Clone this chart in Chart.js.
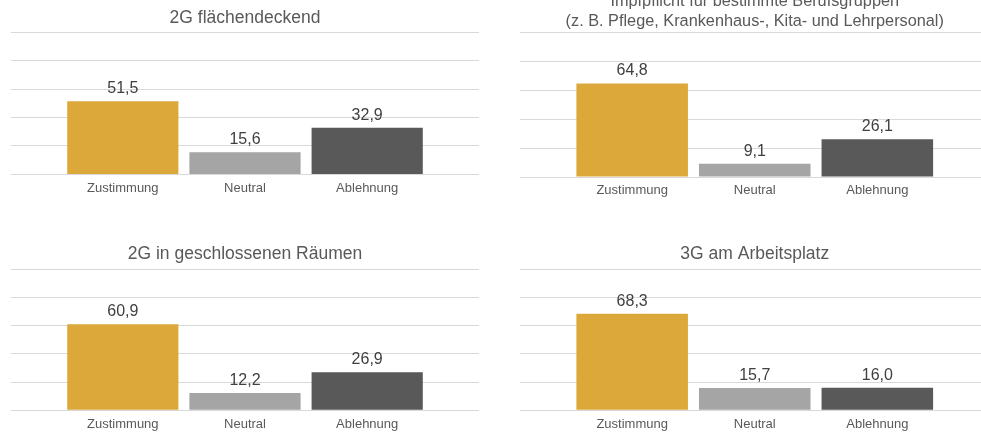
<!DOCTYPE html>
<html>
<head>
<meta charset="utf-8">
<script src="https://cdn.jsdelivr.net/npm/chart.js@4.4.0/dist/chart.umd.min.js"></script>
<style>
  html, body { margin: 0; padding: 0; background: #fff; }
  body { width: 981px; height: 432px; position: relative; overflow: hidden; }
  .panel { position: absolute; }
</style>
</head>
<body>
<div class="panel" style="left:0;top:0"><canvas id="c1" width="490" height="207"></canvas></div>
<div class="panel" style="left:490px;top:-20px"><canvas id="c2" width="510" height="226"></canvas></div>
<div class="panel" style="left:0;top:230px"><canvas id="c3" width="490" height="208"></canvas></div>
<div class="panel" style="left:490px;top:230px"><canvas id="c4" width="510" height="208"></canvas></div>
<script>
// ------------------------------------------------------------
// Data
// ------------------------------------------------------------
const categories = ['Zustimmung', 'Neutral', 'Ablehnung'];

const flaechendeckend = [51.5, 15.6, 32.9];
const berufsgruppen = [64.8, 9.1, 26.1];
const geschlosseneRaeume = [60.9, 12.2, 26.9];
const arbeitsplatz = [68.3, 15.7, 16.0];

const titleFlaeche = '2G flächendeckend';
const titleBeruf = ['Impfpflicht für bestimmte Berufsgruppen', '(z. B. Pflege, Krankenhaus-, Kita- und Lehrpersonal)'];
const titleRaeume = '2G in geschlossenen Räumen';
const titleArbeit = '3G am Arbeitsplatz';

const yMax = 100;
const yStep = 20;

const barColors = ['#DDA83A', '#A5A5A5', '#595959'];
const FONT = '"Liberation Sans", Arial, sans-serif';

// value labels above the bars (German decimal comma)
const valueLabels = {
  id: 'valueLabels',
  afterDatasetsDraw(chart) {
    const ctx = chart.ctx;
    const meta = chart.getDatasetMeta(0);
    const data = chart.data.datasets[0].data;
    ctx.save();
    ctx.font = '16px ' + FONT;
    ctx.fillStyle = '#404040';
    ctx.textAlign = 'center';
    ctx.textBaseline = 'alphabetic';
    meta.data.forEach((bar, i) => {
      ctx.fillText(data[i].y.toFixed(1).replace('.', ','), bar.x, bar.y - 8);
    });
    ctx.restore();
  }
};

function renderPanel(canvasId, title, values, lay) {
  new Chart(document.getElementById(canvasId), {
    type: 'bar',
    data: {
      datasets: [{
        data: values.map((v, i) => ({ x: i + 1, y: v })),
        backgroundColor: barColors,
        borderWidth: 0,
        categoryPercentage: 1,
        barPercentage: 0.91
      }]
    },
    options: {
      responsive: false,
      animation: false,
      layout: { padding: { left: lay.left, right: lay.right, top: 0, bottom: lay.bottom } },
      plugins: {
        legend: { display: false },
        tooltip: { enabled: false },
        title: {
          display: true,
          text: title,
          color: '#595959',
          font: { family: FONT, size: lay.titleSize, weight: 'normal', lineHeight: lay.titleLH },
          padding: { top: lay.titleTop, bottom: lay.titleBottom }
        }
      },
      scales: {
        x: {
          type: 'linear',
          offset: false,
          min: 0.085,
          max: 3.915,
          grid: { display: false, drawTicks: false },
          border: { display: false },
          afterBuildTicks: s => { s.ticks = categories.map((c, i) => ({ value: i + 1 })); },
          ticks: {
            padding: 6,
            color: '#595959',
            font: { family: FONT, size: 13 },
            callback: v => categories[v - 1] || ''
          }
        },
        y: {
          min: 0,
          max: yMax,
          grid: { color: '#D9D9D9', drawTicks: false },
          border: { display: false },
          ticks: { display: false, stepSize: yStep }
        }
      }
    },
    plugins: [valueLabels]
  });
}

renderPanel('c1', titleFlaeche, flaechendeckend,
  { left: 11, right: 11, bottom: 5, titleSize: 17.5, titleLH: 1.2, titleTop: 8, titleBottom: 3.3 });
renderPanel('c2', titleBeruf, berufsgruppen,
  { left: 30, right: 10.5, bottom: 1.4, titleSize: 16.3, titleLH: 1.25, titleTop: 11, titleBottom: 0.8 });
renderPanel('c3', titleRaeume, geschlosseneRaeume,
  { left: 11, right: 11, bottom: 0.1, titleSize: 17.5, titleLH: 1.2, titleTop: 13.8, titleBottom: 4.2 });
renderPanel('c4', titleArbeit, arbeitsplatz,
  { left: 30, right: 10.5, bottom: 0.1, titleSize: 17.5, titleLH: 1.2, titleTop: 13.8, titleBottom: 4.2 });
</script>
</body>
</html>
